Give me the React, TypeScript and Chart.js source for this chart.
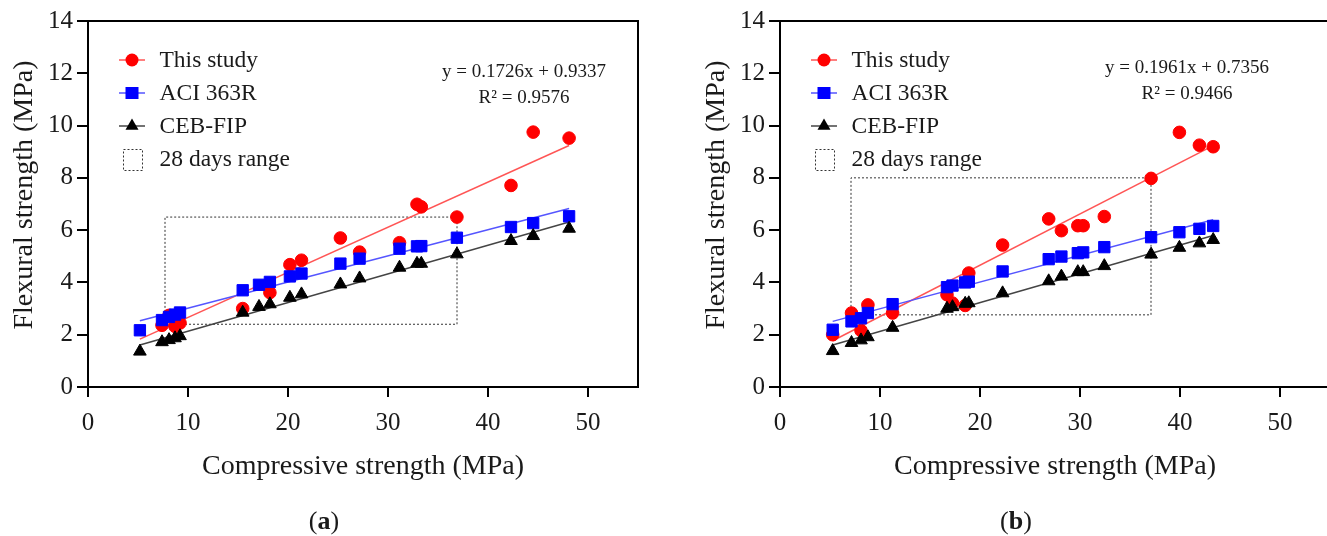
import React, { useEffect, useRef } from 'react';
import { Chart, registerables } from 'chart.js';

Chart.register(...registerables);

// ---------- Panel (a) data ----------
const compA = [5.19, 7.4, 8.1, 8.7, 9.2, 15.47, 17.1, 18.19, 20.19, 21.35, 25.24, 27.16, 31.15, 32.9, 33.33, 36.89, 42.3, 44.52, 48.11];
const studyA = [null, 2.36, 2.74, 2.32, 2.45, 3.0, null, 3.61, 4.68, 4.85, 5.7, 5.16, 5.52, 6.99, 6.89, 6.5, 7.71, 9.75, 9.52];
const aciA = [2.17, 2.56, 2.68, 2.77, 2.85, 3.7, 3.91, 4.02, 4.23, 4.34, 4.72, 4.91, 5.29, 5.38, 5.39, 5.71, 6.12, 6.27, 6.53];
const cebA = [1.36, 1.72, 1.8, 1.87, 1.95, 2.85, 3.07, 3.17, 3.42, 3.55, 3.93, 4.16, 4.57, 4.72, 4.72, 5.08, 5.59, 5.78, 6.06];
const rangeXA = [7.7, 36.9];
const rangeYA = [2.4, 6.5];
const slopeA = 0.1726;
const interceptA = 0.9337;
const r2A = '0.9576';

// ---------- Panel (b) data ----------
const compB = [5.27, 7.15, 8.1, 8.79, 11.26, 16.7, 17.25, 18.52, 18.88, 22.26, 26.87, 28.14, 29.78, 30.32, 32.43, 37.11, 39.94, 41.94, 43.32];
const studyB = [2.0, 2.83, 2.16, 3.14, 2.83, 3.53, 3.21, 3.12, 4.36, 5.43, 6.43, 5.98, 6.17, 6.17, 6.52, 7.98, 9.74, 9.25, 9.19];
const aciB = [2.19, 2.51, 2.63, 2.83, 3.17, 3.82, 3.88, 4.0, 4.03, 4.42, 4.89, 4.99, 5.12, 5.15, 5.35, 5.73, 5.92, 6.05, 6.16];
const cebB = [1.38, 1.69, 1.79, 1.91, 2.27, 3.0, 3.06, 3.19, 3.21, 3.59, 4.05, 4.23, 4.4, 4.4, 4.63, 5.07, 5.33, 5.5, 5.63];
const rangeXB = [7.1, 37.1];
const rangeYB = [2.76, 8.0];
const slopeB = 0.1961;
const interceptB = 0.7356;
const r2B = '0.9466';

// ---------- shared labels ----------
const seriesNames = ['This study', 'ACI 363R', 'CEB-FIP', '28 days range'];
const xTitle = 'Compressive strength (MPa)';
const yTitle = 'Flexural strength (MPa)';
const yTicks = [0, 2, 4, 6, 8, 10, 12, 14];
const xTicks = [0, 10, 20, 30, 40, 50];

const FONT = "'Liberation Serif', 'Times New Roman', serif";
const TEXT = '#1a1a1a';

type Panel = {
  comp: number[];
  study: (number | null)[];
  aci: number[];
  ceb: number[];
  rangeX: number[];
  rangeY: number[];
  slope: number;
  intercept: number;
  r2: string;
  caption: string;
  eqX: number;
  eqY: number;
};

const panels: Panel[] = [
  { comp: compA, study: studyA, aci: aciA, ceb: cebA, rangeX: rangeXA, rangeY: rangeYA, slope: slopeA, intercept: interceptA, r2: r2A, caption: 'a', eqX: 436, eqY: 51 },
  { comp: compB, study: studyB, aci: aciB, ceb: cebB, rangeX: rangeXB, rangeY: rangeYB, slope: slopeB, intercept: interceptB, r2: r2B, caption: 'b', eqX: 407, eqY: 47 },
];

function pts(xs: number[], ys: (number | null)[]) {
  const out: { x: number; y: number }[] = [];
  xs.forEach((x, i) => {
    const y = ys[i];
    if (y !== null && y !== undefined) out.push({ x, y });
  });
  return out;
}

function linFit(xs: number[], ys: number[]) {
  const n = xs.length;
  const mx = xs.reduce((a, b) => a + b, 0) / n;
  const my = ys.reduce((a, b) => a + b, 0) / n;
  let sxy = 0;
  let sxx = 0;
  for (let i = 0; i < n; i++) {
    sxy += (xs[i] - mx) * (ys[i] - my);
    sxx += (xs[i] - mx) * (xs[i] - mx);
  }
  const m = sxy / sxx;
  return { m, b: my - m * mx };
}

function lineData(m: number, b: number, xs: number[]) {
  const x0 = Math.min(...xs);
  const x1 = Math.max(...xs);
  return [
    { x: x0, y: m * x0 + b },
    { x: x1, y: m * x1 + b },
  ];
}

const RED = '#ff0000';
const RED_L = '#ff5555';
const BLUE = '#0000ff';
const BLUE_L = '#5555ff';
const BLACK = '#000000';
const BLACK_L = '#444444';

function drawMarker(ctx: CanvasRenderingContext2D, style: string, x: number, y: number, color: string) {
  ctx.fillStyle = color;
  ctx.beginPath();
  if (style === 'circle') {
    ctx.arc(x, y, 6.5, 0, Math.PI * 2);
  } else if (style === 'rect') {
    ctx.rect(x - 6.5, y - 6, 13, 12);
  } else {
    const r = 7.5;
    ctx.moveTo(x, y - r);
    ctx.lineTo(x + r * 0.866, y + r * 0.5);
    ctx.lineTo(x - r * 0.866, y + r * 0.5);
    ctx.closePath();
  }
  ctx.fill();
}

function overlayPlugin(p: Panel) {
  return {
    id: 'overlay' + p.caption,
    afterDraw(chart: any) {
      const { ctx, chartArea: a } = chart;
      ctx.save();
      // frame top & right
      ctx.strokeStyle = '#000';
      ctx.lineWidth = 2;
      ctx.beginPath();
      ctx.moveTo(a.left, a.top);
      ctx.lineTo(a.right, a.top);
      ctx.lineTo(a.right, a.bottom);
      ctx.stroke();

      // y-axis title
      ctx.save();
      ctx.translate(25, (a.top + a.bottom) / 2 - 9);
      ctx.rotate(-Math.PI / 2);
      ctx.font = `28px ${FONT}`;
      ctx.fillStyle = TEXT;
      ctx.textAlign = 'center';
      ctx.textBaseline = 'middle';
      ctx.fillText(yTitle, 0, 0);
      ctx.restore();

      // legend
      const styles = ['circle', 'rect', 'triangle'];
      const markerCols = [RED, BLUE, BLACK];
      const lineCols = [RED_L, BLUE_L, BLACK_L];
      ctx.font = `23.5px ${FONT}`;
      ctx.textBaseline = 'middle';
      ctx.textAlign = 'left';
      for (let i = 0; i < 4; i++) {
        const ry = a.top + 39 + 33 * i;
        if (i < 3) {
          ctx.strokeStyle = lineCols[i];
          ctx.lineWidth = 1.5;
          ctx.setLineDash([]);
          ctx.beginPath();
          ctx.moveTo(a.left + 31, ry);
          ctx.lineTo(a.left + 57, ry);
          ctx.stroke();
          drawMarker(ctx, styles[i], a.left + 44, ry, markerCols[i]);
        } else {
          ctx.strokeStyle = '#333';
          ctx.lineWidth = 1;
          ctx.setLineDash([2, 2]);
          ctx.strokeRect(a.left + 35.5, ry - 9.5, 19, 21);
          ctx.setLineDash([]);
        }
        ctx.fillStyle = TEXT;
        ctx.fillText(seriesNames[i], a.left + 71.5, ry + 1);
      }

      // equation
      ctx.font = `19px ${FONT}`;
      ctx.textAlign = 'center';
      ctx.fillStyle = TEXT;
      ctx.fillText(`y = ${p.slope.toFixed(4)}x + ${p.intercept.toFixed(4)}`, a.left + p.eqX, a.top + p.eqY);
      ctx.fillText(`R² = ${p.r2}`, a.left + p.eqX, a.top + p.eqY + 26.5);

      // caption "(a)" with bold letter
      const cy = 522;
      const capX = a.left + 236;
      ctx.textAlign = 'left';
      const reg = `26px ${FONT}`;
      const bold = `bold 26px ${FONT}`;
      ctx.font = reg;
      const wOpen = ctx.measureText('(').width;
      const wClose = ctx.measureText(')').width;
      ctx.font = bold;
      const wMid = ctx.measureText(p.caption).width;
      let cx = capX - (wOpen + wMid + wClose) / 2;
      ctx.font = reg;
      ctx.fillText('(', cx, cy);
      cx += wOpen;
      ctx.font = bold;
      ctx.fillText(p.caption, cx, cy);
      cx += wMid;
      ctx.font = reg;
      ctx.fillText(')', cx, cy);
      ctx.restore();
    },
  };
}

function makeConfig(p: Panel): any {
  const studyPts = pts(p.comp, p.study);
  const aciPts = pts(p.comp, p.aci);
  const cebPts = pts(p.comp, p.ceb);
  const aciFit = linFit(p.comp, p.aci);
  const cebFit = linFit(p.comp, p.ceb);
  const [rx0, rx1] = p.rangeX;
  const [ry0, ry1] = p.rangeY;
  return {
    type: 'scatter',
    data: {
      datasets: [
        {
          label: seriesNames[3],
          data: [
            { x: rx0, y: ry0 },
            { x: rx1, y: ry0 },
            { x: rx1, y: ry1 },
            { x: rx0, y: ry1 },
            { x: rx0, y: ry0 },
          ],
          showLine: true,
          borderColor: '#333',
          borderWidth: 1,
          borderDash: [2, 2],
          pointRadius: 0,
          order: 10,
        },
        { label: 'fit-study', data: lineData(p.slope, p.intercept, p.comp), showLine: true, borderColor: RED_L, borderWidth: 1.5, pointRadius: 0, order: 9 },
        { label: 'fit-aci', data: lineData(aciFit.m, aciFit.b, p.comp), showLine: true, borderColor: BLUE_L, borderWidth: 1.5, pointRadius: 0, order: 8 },
        { label: 'fit-ceb', data: lineData(cebFit.m, cebFit.b, p.comp), showLine: true, borderColor: BLACK_L, borderWidth: 1.5, pointRadius: 0, order: 7 },
        { label: seriesNames[0], data: studyPts, pointStyle: 'circle', pointRadius: 6.3, backgroundColor: RED, borderColor: RED, borderWidth: 1, order: 3 },
        { label: seriesNames[1], data: aciPts, pointStyle: 'rect', pointRadius: 8, backgroundColor: BLUE, borderColor: BLUE, borderWidth: 1, order: 2 },
        { label: seriesNames[2], data: cebPts, pointStyle: 'triangle', pointRadius: 7.3, backgroundColor: BLACK, borderColor: BLACK, borderWidth: 1, order: 1 },
      ],
    },
    options: {
      responsive: false,
      animation: false,
      layout: { padding: { top: 21, left: 0, right: 25, bottom: 49 } },
      plugins: { legend: { display: false }, tooltip: { enabled: false } },
      scales: {
        x: {
          type: 'linear',
          min: 0,
          max: 55,
          afterFit: (s: any) => {
            s.height = 100;
          },
          afterBuildTicks: (s: any) => {
            s.ticks = xTicks.map((v) => ({ value: v }));
          },
          ticks: { font: { size: 25, family: FONT }, color: TEXT, padding: 11, includeBounds: false, maxRotation: 0 },
          grid: { display: true, drawOnChartArea: false, drawTicks: true, tickLength: 10, color: '#000', lineWidth: 2 },
          border: { display: true, color: '#000', width: 2 },
          title: { display: true, text: xTitle, font: { size: 28, family: FONT }, color: TEXT, padding: { top: 0, bottom: 4 } },
        },
        y: {
          type: 'linear',
          min: 0,
          max: 14,
          afterFit: (s: any) => {
            s.width = 88;
          },
          afterBuildTicks: (s: any) => {
            s.ticks = yTicks.map((v) => ({ value: v }));
          },
          ticks: { font: { size: 25, family: FONT }, color: TEXT, padding: 4 },
          grid: { display: true, drawOnChartArea: false, drawTicks: true, tickLength: 11, color: '#000', lineWidth: 2 },
          border: { display: true, color: '#000', width: 2 },
          title: { display: false },
        },
      },
    },
    plugins: [overlayPlugin(p)],
  };
}

function ChartPanel({ panel, left }: { panel: Panel; left: number }) {
  const ref = useRef<HTMLCanvasElement>(null);
  useEffect(() => {
    const chart = new Chart(ref.current as HTMLCanvasElement, makeConfig(panel));
    return () => chart.destroy();
  }, [panel]);
  return (
    <div style={{ position: 'absolute', left, top: 0, width: 663, height: 536 }}>
      <canvas ref={ref} width={663} height={536} style={{ width: 663, height: 536, display: 'block' }} />
    </div>
  );
}

export default function App() {
  return (
    <div style={{ position: 'absolute', left: 0, top: 0, width: 1327, height: 536, background: '#fff', overflow: 'hidden' }}>
      <ChartPanel panel={panels[0]} left={0} />
      <ChartPanel panel={panels[1]} left={692} />
    </div>
  );
}
